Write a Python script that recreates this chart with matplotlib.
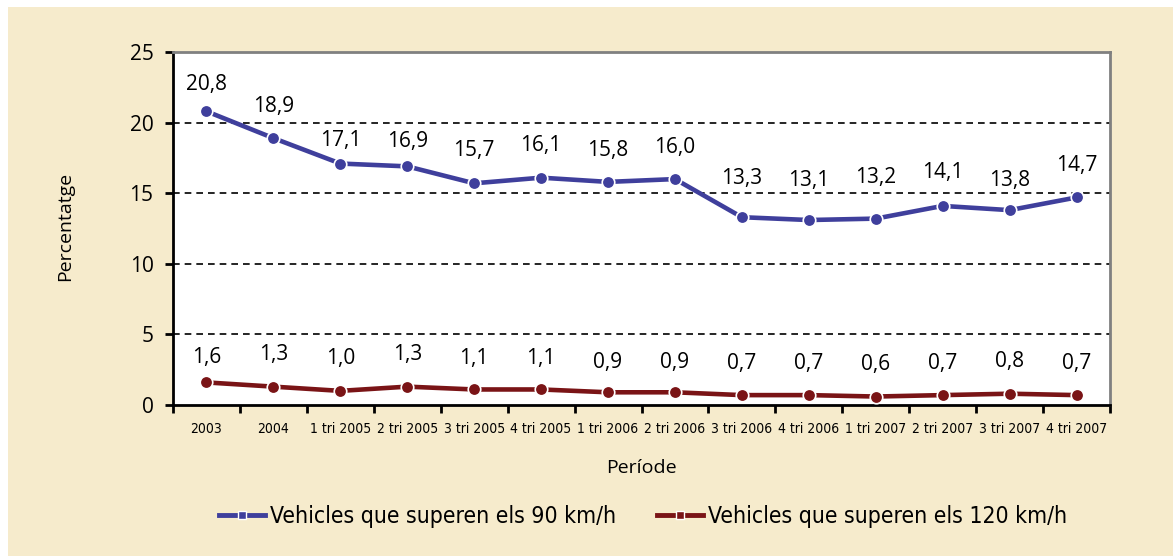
import matplotlib
matplotlib.use("Agg")
import matplotlib.pyplot as plt
from matplotlib.patches import Rectangle
from matplotlib.lines import Line2D

categories = ["2003", "2004", "1 tri 2005", "2 tri 2005", "3 tri 2005", "4 tri 2005",
              "1 tri 2006", "2 tri 2006", "3 tri 2006", "4 tri 2006", "1 tri 2007",
              "2 tri 2007", "3 tri 2007", "4 tri 2007"]
v90 = [20.8, 18.9, 17.1, 16.9, 15.7, 16.1, 15.8, 16.0, 13.3, 13.1, 13.2, 14.1, 13.8, 14.7]
v120 = [1.6, 1.3, 1.0, 1.3, 1.1, 1.1, 0.9, 0.9, 0.7, 0.7, 0.6, 0.7, 0.8, 0.7]
yticks = [0, 5, 10, 15, 20, 25]
label90 = "Vehicles que superen els 90 km/h"
label120 = "Vehicles que superen els 120 km/h"

# layout: vertical offset (pixels) of each data label above its point
label_dy90 = [27, 32, 23, 25, 33, 32, 31, 32, 39, 40, 41, 33, 30, 32]
label_dy120 = [25, 32, 32, 32, 31, 31, 30, 30, 32, 32, 32, 32, 32, 32]

BG = "#F6EBCC"
BLUE = "#3F3F9C"
RED = "#7A1416"
FONT = ["Open Sans", "DejaVu Sans"]

W, H = 1173, 556
fig = plt.figure(figsize=(W / 100, H / 100), dpi=100, facecolor="white")
fig.patches.append(Rectangle((8 / W, 0), 1 - 8 / W, 1 - 7 / H, transform=fig.transFigure,
                             facecolor=BG, edgecolor="none", zorder=-10))

ax = fig.add_axes([173 / W, 1 - 405 / H, (1110 - 173) / W, (405 - 52) / H])
ax.set_facecolor("white")
x = list(range(len(categories)))

ax.plot(x, v90, color=BLUE, lw=3.3, marker="o", ms=9, mfc=BLUE, mec="white", mew=1.2, zorder=3)
ax.plot(x, v120, color=RED, lw=3.3, marker="o", ms=9, mfc=RED, mec="white", mew=1.2, zorder=3)

for xi, v, dy in zip(x, v90, label_dy90):
    ax.annotate(f"{v:.1f}".replace(".", ","), (xi, v), xytext=(0, dy * 0.72), textcoords="offset points",
                ha="center", va="center", fontsize=15, family=FONT, color="black", zorder=4)
for xi, v, dy in zip(x, v120, label_dy120):
    ax.annotate(f"{v:.1f}".replace(".", ","), (xi, v), xytext=(0, dy * 0.72), textcoords="offset points",
                ha="center", va="center", fontsize=15, family=FONT, color="black", zorder=4)

ax.set_xlim(-0.5, len(categories) - 0.5)
ax.set_ylim(0, 25)
ax.set_yticks(yticks)
ax.set_yticklabels([str(t) for t in yticks], fontsize=15, family=FONT)
for t in yticks[1:-1]:
    ax.axhline(t, color="black", lw=1.2, ls=(0, (4, 3)), zorder=1)

ax.set_xticks(x)
ax.set_xticklabels(categories, fontsize=10, family="DejaVu Sans", fontstretch="condensed")
ax.tick_params(axis="x", which="major", length=0, pad=12)
ax.set_xticks([i - 0.5 for i in range(len(categories) + 1)], minor=True)
ax.tick_params(axis="x", which="minor", length=6, width=2, direction="out")
ax.tick_params(axis="y", length=6, width=2, direction="out", pad=8)

for s in ("left", "bottom"):
    ax.spines[s].set_color("black")
    ax.spines[s].set_linewidth(2)
for s in ("top", "right"):
    ax.spines[s].set_color("#808080")
    ax.spines[s].set_linewidth(2)

fig.text(65 / W, 1 - 226 / H, "Percentatge", rotation=90, ha="center", va="center",
         fontsize=14, family=FONT)
fig.text(641 / W, 1 - 468 / H, "Període", ha="center", va="center", fontsize=14, family=FONT)

handles = [Line2D([], [], color=BLUE, lw=3.5, marker="s", ms=6, mfc=BLUE, mec="white", mew=1),
           Line2D([], [], color=RED, lw=3.5, marker="s", ms=6, mfc=RED, mec="white", mew=1)]
fig.legend(handles, [label90, label120], loc="center", bbox_to_anchor=(643 / W, 1 - 517 / H),
           ncol=2, frameon=False, prop={"family": "DejaVu Sans", "size": 16.5, "stretch": "condensed"},
           handlelength=2.0, handletextpad=0.2, columnspacing=1.8)

fig.savefig("out.png", dpi=100, facecolor=fig.get_facecolor())
